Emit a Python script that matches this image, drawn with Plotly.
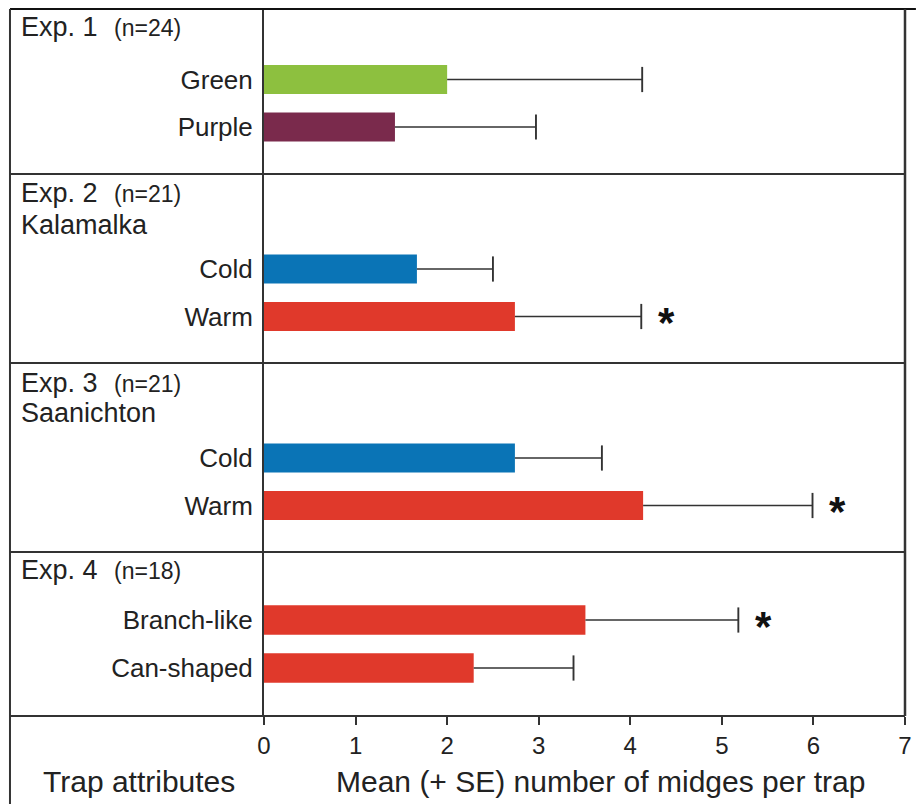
import plotly.graph_objects as go

# ---------------- data ----------------
panel_titles = ["Exp. 1", "Exp. 2", "Exp. 3", "Exp. 4"]
n_labels = ["(n=24)", "(n=21)", "(n=21)", "(n=18)"]
sites = ["", "Kalamalka", "Saanichton", ""]
categories = [["Green", "Purple"], ["Cold", "Warm"], ["Cold", "Warm"], ["Branch-like", "Can-shaped"]]
means = [[2.00, 1.43], [1.67, 2.74], [2.74, 4.14], [3.51, 2.29]]
se = [[2.13, 1.54], [0.83, 1.38], [0.95, 1.85], [1.67, 1.09]]
significant = [[False, False], [False, True], [False, True], [True, False]]
x_ticks = [0, 1, 2, 3, 4, 5, 6, 7]
x_title = "Mean (+ SE) number of midges per trap"
left_title = "Trap attributes"

# ---------------- style ----------------
bar_colors = [["#8dc03f", "#7a2a4c"], ["#0a74b6", "#e0392b"], ["#0a74b6", "#e0392b"], ["#e0392b", "#e0392b"]]
FONT = "Liberation Sans, Arial, sans-serif"
INK = "#333333"
TXT = "#222222"

W, H = 921, 804
L, R, T, B = 264, 910, 9, 716
pw, ph = R - L, B - T
# panel boundaries (pixel) top->bottom
bounds = [9, 174, 363, 552, 716]
domains = []
for i in range(4):
    y0 = (B - bounds[i + 1]) / ph
    y1 = (B - bounds[i]) / ph
    domains.append([max(0, y0), min(1, y1)])
y_ranges = [[1.989, -1.484], [1.979, -2.0], [1.979, -2.0], [2.0, -1.417]]

def px_x(p):
    return (p - L) / pw

def px_y(p):
    return (B - p) / ph

fig = go.Figure()
ynames = ["y", "y2", "y3", "y4"]
annotations = []
for i in range(4):
    yn = ynames[i]
    fig.add_trace(go.Bar(
        x=means[i], y=categories[i], orientation="h",
        marker=dict(color=bar_colors[i], line=dict(width=0)),
        width=0.61, xaxis="x", yaxis=yn, showlegend=False,
    ))
    ex, ey = [], []
    for m, s, c in zip(means[i], se[i], categories[i]):
        ex += [m, m + s, None]
        ey += [c, c, None]
    fig.add_trace(go.Scatter(
        x=ex, y=ey, mode="lines", line=dict(color=INK, width=1.7),
        xaxis="x", yaxis=yn, showlegend=False, hoverinfo="skip",
    ))
    fig.add_trace(go.Scatter(
        x=[m + s for m, s in zip(means[i], se[i])], y=categories[i], mode="markers",
        marker=dict(symbol="line-ns", size=18, line=dict(color=INK, width=1.9)),
        xaxis="x", yaxis=yn, showlegend=False, hoverinfo="skip",
    ))
    for j, (m, s, sig) in enumerate(zip(means[i], se[i], significant[i])):
        if sig:
            annotations.append(dict(
                x=m + s, y=j, xref="x", yref=yn, text="<b>*</b>", showarrow=False,
                xshift=25, yshift=-6, xanchor="center", yanchor="middle",
                font=dict(family=FONT, size=42, color="#111111"),
            ))

# panel titles
title_y = [27, 193, 383, 570]
site_y = [None, 225, 413, None]
for i in range(4):
    annotations.append(dict(x=px_x(17), y=px_y(title_y[i]), xref="paper", yref="paper",
                            text=panel_titles[i], showarrow=False, xanchor="left", yanchor="middle",
                            font=dict(family=FONT, size=27, color=TXT)))
    annotations.append(dict(x=px_x(111), y=px_y(title_y[i] + 1), xref="paper", yref="paper",
                            text=n_labels[i], showarrow=False, xanchor="left", yanchor="middle",
                            font=dict(family=FONT, size=23, color=TXT)))
    if sites[i]:
        annotations.append(dict(x=px_x(17), y=px_y(site_y[i]), xref="paper", yref="paper",
                                text=sites[i], showarrow=False, xanchor="left", yanchor="middle",
                                font=dict(family=FONT, size=27, color=TXT)))

annotations.append(dict(x=px_x(603), y=px_y(781), xref="paper", yref="paper", text=x_title,
                        showarrow=False, xanchor="center", yanchor="middle",
                        font=dict(family=FONT, size=30, color=TXT)))
annotations.append(dict(x=px_x(138), y=px_y(781), xref="paper", yref="paper", text=left_title,
                        showarrow=False, xanchor="center", yanchor="middle",
                        font=dict(family=FONT, size=30, color=TXT)))

# frame lines
shapes = []
xl = px_x(8)
for b in bounds[1:]:
    shapes.append(dict(type="line", xref="paper", yref="paper", x0=xl, x1=1, y0=px_y(b), y1=px_y(b),
                       line=dict(color=INK, width=2)))
shapes.append(dict(type="line", xref="paper", yref="paper", x0=xl, x1=px_x(921), y0=px_y(9), y1=px_y(9),
                   line=dict(color="#111111", width=2)))
shapes.append(dict(type="line", xref="paper", yref="paper", x0=1, x1=1, y0=px_y(716), y1=px_y(9),
                   line=dict(color=INK, width=2.5)))
shapes.append(dict(type="line", xref="paper", yref="paper", x0=xl, x1=xl, y0=px_y(804), y1=px_y(9),
                   line=dict(color=INK, width=2)))

layout = dict(
    width=W, height=H, autosize=False,
    margin=dict(l=L, r=W - R, t=T, b=H - B, pad=0),
    paper_bgcolor="white", plot_bgcolor="white",
    xaxis=dict(domain=[0, 1], anchor="y4", range=[0, 7], tickvals=x_ticks,
               ticktext=[str(v) for v in x_ticks], ticks="outside", ticklen=8, tickwidth=1.5,
               tickcolor=INK, showgrid=False, zeroline=False, showline=False,
               tickfont=dict(family=FONT, size=24, color=TXT)),
    shapes=shapes, annotations=annotations,
)
for i in range(4):
    key = "yaxis" if i == 0 else f"yaxis{i + 1}"
    layout[key] = dict(domain=domains[i], anchor="x", range=y_ranges[i], type="category",
                       categoryorder="array", categoryarray=categories[i],
                       showgrid=False, zeroline=False, showline=True, linecolor=INK, linewidth=2,
                       ticks="", ticklabelstandoff=4,
                       tickfont=dict(family=FONT, size=26, color=TXT))
fig.update_layout(**layout)
fig.write_html(
    "out.html",
    config={"responsive": False},
    post_script="document.documentElement.style.overflow='hidden';document.body.style.overflow='hidden';document.body.style.margin='0';",
)
